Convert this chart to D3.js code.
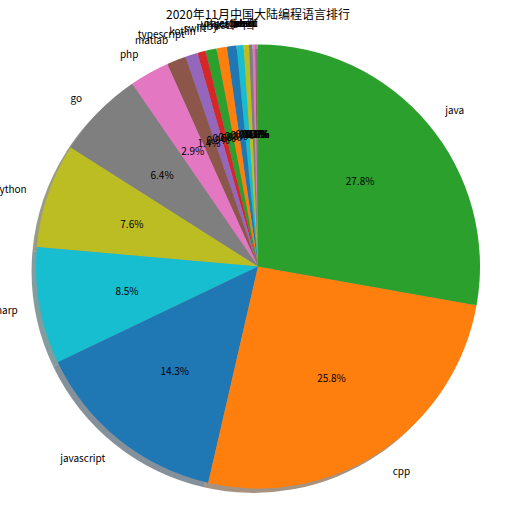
<!DOCTYPE html>
<html>
<head>
<meta charset="utf-8">
<script src="https://cdn.jsdelivr.net/npm/d3@7"></script>
<style>
  body { margin: 0; background: #fff; }
  text { font-family: "Noto Sans CJK SC", "Noto Sans", sans-serif; fill: #000; }
</style>
</head>
<body>
<div id="pie-chart"></div>
<script>
// first slice starts at 12 o'clock and runs counter-clockwise
var languages = ["delphi", "visual_basic", "objective_c", "sql", "shell", "dart", "r", "perl",
                 "lua", "scala", "rust", "ruby", "swift", "kotlin", "typescript", "matlab",
                 "php", "go", "python", "csharp", "javascript", "cpp", "java"];
var shares = [0.01, 0.02, 0.02, 0.03, 0.04, 0.08, 0.2, 0.25,
              0.4, 0.5, 0.7, 0.75, 0.8, 0.6, 0.9, 1.4,
              2.9, 6.4, 7.6, 8.5, 14.3, 25.8, 27.8];
var title = "2020年11月中国大陆编程语言排行";

function draw_pie(){
    var width = 518, height = 515;
    var cx = 258, cy = 266.5, radius = 222;

    var svg = d3.select("#pie-chart")
        .append("svg")
            .attr("width", width)
            .attr("height", height);

    svg.append("text")
        .attr("x", cx)
        .attr("y", 13)
        .attr("text-anchor", "middle")
        .attr("dominant-baseline", "central")
        .style("font-size", "12px")
        .text(title);

    var g = svg.append("g")
        .attr("transform", "translate(" + cx + "," + cy + ")");

    var color = d3.scaleOrdinal()
        .domain(d3.range(shares.length))
        .range(d3.schemeCategory10);

    var total = d3.sum(shares);
    var data = shares.map(function(v, i){ return {name: languages[i], value: v, i: i}; });

    var pie = d3.pie()
        .sort(null)
        .value(function(d){ return d.value; })
        .startAngle(0)
        .endAngle(-2 * Math.PI);
    var arcs = pie(data);

    var arc = d3.arc().innerRadius(0).outerRadius(radius);

    // shadow: darker copy shifted down-left, half transparent
    g.append("g")
        .attr("transform", "translate(-4.4,4.4)")
        .selectAll("path")
        .data(arcs)
        .enter().append("path")
            .attr("d", arc)
            .attr("fill", function(d){
                var c = d3.rgb(color(d.data.i));
                return d3.rgb(c.r * 0.3, c.g * 0.3, c.b * 0.3);
            })
            .attr("fill-opacity", 0.5);

    g.append("g")
        .selectAll("path")
        .data(arcs)
        .enter().append("path")
            .attr("d", arc)
            .attr("fill", function(d){ return color(d.data.i); });

    function mid(d){ return (d.startAngle + d.endAngle) / 2; }

    // percent labels
    g.append("g")
        .selectAll("text")
        .data(arcs)
        .enter().append("text")
            .attr("x", function(d){ return Math.sin(mid(d)) * radius * 0.6; })
            .attr("y", function(d){ return -Math.cos(mid(d)) * radius * 0.6; })
            .attr("text-anchor", "middle")
            .attr("dominant-baseline", "central")
            .style("font-size", "10px")
            .text(function(d){ return (d.data.value / total * 100).toFixed(1) + "%"; });

    // name labels
    g.append("g")
        .selectAll("text")
        .data(arcs)
        .enter().append("text")
            .attr("x", function(d){ return Math.sin(mid(d)) * radius * 1.1; })
            .attr("y", function(d){ return -Math.cos(mid(d)) * radius * 1.1; })
            .attr("text-anchor", function(d){ return Math.sin(mid(d)) > 0 ? "start" : "end"; })
            .attr("dominant-baseline", "central")
            .style("font-size", "10px")
            .text(function(d){ return d.data.name; });
}

draw_pie();
</script>
</body>
</html>
